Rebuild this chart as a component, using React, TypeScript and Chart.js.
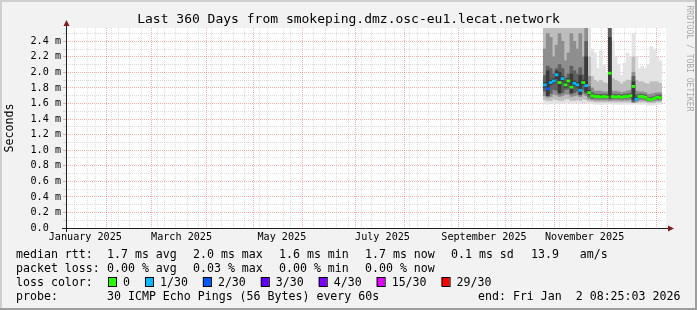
import React, { useEffect, useRef } from 'react';
import { Chart, registerables } from 'chart.js';

Chart.register(...registerables);

const MONO = "'DejaVu Sans Mono', monospace";

// ---- time axis (day of year 2025, 0 = Jan 1 00:00) ----
const rangeStart = 6.35; // Tue Jan 7 2025 08:25
const rangeEnd = 366.35; // Fri Jan 2 2026 08:25
const monthStarts = [31, 59, 90, 120, 151, 181, 212, 243, 273, 304, 334, 365];
const weekStarts = [11, 18, 25, 32, 39, 46, 53, 60, 67, 74, 81, 88, 95, 102, 109, 116, 123, 130, 137, 144, 151, 158, 165, 172, 179, 186, 193, 200, 207, 214, 221, 228, 235, 242, 249, 256, 263, 270, 277, 284, 291, 298, 305, 312, 319, 326, 333, 340, 347, 354, 361];
const xLabelDays = [15.4, 74.0, 135.1, 196.4, 258.2, 319.5];
const xLabels = ['January 2025', 'March 2025', 'May 2025', 'July 2025', 'September 2025', 'November 2025'];

// ---- value axis (ms) ----
const yMax = 2.571;
const yTicks = [0, 0.1, 0.2, 0.3, 0.4, 0.5, 0.6, 0.7, 0.8, 0.9, 1.0, 1.1, 1.2, 1.3, 1.4, 1.5, 1.6, 1.7, 1.8, 1.9, 2.0, 2.1, 2.2, 2.3, 2.4, 2.5];
const yTickLabels = ['0.0  ', '', '0.2 m', '', '0.4 m', '', '0.6 m', '', '0.8 m', '', '1.0 m', '', '1.2 m', '', '1.4 m', '', '1.6 m', '', '1.8 m', '', '2.0 m', '', '2.2 m', '', '2.4 m', ''];

// ---- measured data (per time bucket) ----
const days = [295.25, 297.05, 298.85, 300.65, 302.45, 304.25, 306.05, 307.85, 309.65, 311.45, 313.25, 315.05, 316.85, 318.65, 320.45, 322.25, 324.05, 325.85, 327.65, 329.45, 331.25, 333.05, 334.85, 336.65, 338.45, 340.25, 342.05, 343.85, 345.65, 347.45, 349.25, 351.05, 352.85, 354.65, 356.45, 358.25, 360.05, 361.85, 363.65, 365.45];
const medianMs = [1.84, 1.79, 1.87, 1.89, 1.97, 1.87, 1.92, 1.84, 1.89, 1.81, 1.86, 1.84, 1.77, 1.87, 1.83, 1.74, 1.70, 1.69, 1.69, 1.685, 1.69, 1.685, 1.99, 1.69, 1.685, 1.69, 1.68, 1.69, 1.69, 1.70, 1.82, 1.655, 1.69, 1.69, 1.68, 1.655, 1.65, 1.665, 1.68, 1.675];
const lossCount = [1, 2, 1, 1, 1, 0, 1, 0, 0, 0, 1, 1, 1, 0, 1, 0, 0, 0, 0, 0, 0, 0, 0, 0, 0, 0, 0, 0, 0, 0, 0, 1, 0, 0, 0, 0, 0, 0, 0, 0];
// smoke bands: outer (all pings) -> inner (around the median)
const smokeOuterLo = [1.60, 1.59, 1.60, 1.61, 1.60, 1.60, 1.60, 1.61, 1.61, 1.60, 1.60, 1.61, 1.60, 1.61, 1.61, 1.60, 1.60, 1.59, 1.59, 1.59, 1.59, 1.59, 1.60, 1.59, 1.59, 1.59, 1.59, 1.59, 1.59, 1.59, 1.59, 1.59, 1.59, 1.59, 1.59, 1.58, 1.58, 1.58, 1.59, 1.59];
const smokeOuterHi = [3.2, 3.2, 3.2, 3.2, 3.2, 3.2, 3.2, 3.2, 3.2, 3.2, 3.2, 3.2, 3.2, 3.2, 3.2, 2.6, 2.3, 2.25, 2.05, 2.28, 2.1, 2.0, 3.2, 2.4, 2.2, 2.1, 1.96, 2.12, 2.25, 2.2, 2.5, 2.2, 2.05, 2.08, 2.05, 2.1, 2.33, 2.3, 2.2, 2.15];
const smokeWideLo = [1.65, 1.64, 1.64, 1.66, 1.65, 1.64, 1.64, 1.66, 1.66, 1.64, 1.64, 1.65, 1.64, 1.66, 1.65, 1.63, 1.63, 1.62, 1.62, 1.62, 1.62, 1.62, 1.62, 1.62, 1.62, 1.62, 1.62, 1.62, 1.62, 1.62, 1.61, 1.61, 1.62, 1.62, 1.62, 1.61, 1.61, 1.61, 1.62, 1.62];
const smokeWideHi = [2.9, 3.0, 2.9, 2.7, 2.9, 3.0, 2.85, 2.6, 2.8, 3.0, 2.9, 2.75, 3.0, 2.7, 3.0, 2.2, 1.95, 1.9, 1.88, 1.9, 1.87, 1.86, 3.0, 1.92, 1.9, 1.88, 1.85, 1.88, 1.9, 1.9, 2.2, 1.9, 1.88, 1.88, 1.86, 1.85, 1.88, 1.88, 1.88, 1.86];
const smokeMidLo = [1.70, 1.68, 1.69, 1.72, 1.71, 1.69, 1.70, 1.72, 1.72, 1.69, 1.70, 1.71, 1.69, 1.72, 1.70, 1.66, 1.65, 1.645, 1.645, 1.645, 1.645, 1.645, 1.64, 1.645, 1.645, 1.645, 1.64, 1.645, 1.645, 1.65, 1.62, 1.63, 1.645, 1.645, 1.64, 1.63, 1.63, 1.635, 1.64, 1.64];
const smokeMidHi = [2.3, 2.5, 2.45, 2.2, 2.35, 2.5, 2.4, 2.15, 2.25, 2.5, 2.4, 2.3, 2.5, 2.2, 2.8, 1.95, 1.8, 1.76, 1.76, 1.76, 1.75, 1.75, 2.9, 1.76, 1.76, 1.75, 1.74, 1.75, 1.76, 1.77, 2.0, 1.76, 1.75, 1.75, 1.74, 1.72, 1.72, 1.73, 1.74, 1.74];
const smokeCoreLo = [1.76, 1.70, 1.73, 1.78, 1.77, 1.72, 1.74, 1.78, 1.79, 1.72, 1.74, 1.76, 1.71, 1.78, 1.73, 1.69, 1.67, 1.67, 1.67, 1.665, 1.67, 1.665, 1.66, 1.67, 1.665, 1.67, 1.66, 1.67, 1.67, 1.675, 1.62, 1.64, 1.67, 1.67, 1.66, 1.64, 1.635, 1.65, 1.66, 1.655];
const smokeCoreHi = [1.96, 2.08, 2.05, 1.98, 2.05, 2.1, 2.05, 1.93, 1.98, 2.08, 2.02, 1.98, 2.06, 1.97, 2.4, 1.82, 1.74, 1.72, 1.72, 1.72, 1.72, 1.72, 2.7, 1.72, 1.72, 1.72, 1.71, 1.72, 1.72, 1.73, 1.95, 1.71, 1.72, 1.72, 1.71, 1.68, 1.68, 1.69, 1.71, 1.71];
const smokeDarkLo = [1.81, 1.70, 1.84, 1.86, 1.92, 1.74, 1.89, 1.81, 1.86, 1.74, 1.83, 1.81, 1.72, 1.84, 1.75, 1.72, 1.69, 1.68, 1.68, 1.675, 1.68, 1.675, 1.70, 1.68, 1.675, 1.68, 1.67, 1.68, 1.68, 1.69, 1.65, 1.645, 1.68, 1.68, 1.67, 1.645, 1.64, 1.655, 1.67, 1.665];
const smokeDarkHi = [1.87, 2.02, 1.90, 1.92, 2.02, 2.0, 1.95, 1.87, 1.92, 1.98, 1.89, 1.87, 1.96, 1.90, 2.2, 1.77, 1.72, 1.70, 1.70, 1.70, 1.70, 1.70, 2.45, 1.70, 1.70, 1.70, 1.69, 1.70, 1.70, 1.71, 1.88, 1.68, 1.70, 1.70, 1.69, 1.665, 1.66, 1.675, 1.69, 1.69];

// ---- legend ----
const lossThresholds = [0, 1, 2, 3, 4, 15, 29];
const lossLegendLabels = ['0', '1/30', '2/30', '3/30', '4/30', '15/30', '29/30'];
const lossColors = ['#26ff00', '#00b8ff', '#0059ff', '#5e00ff', '#7e00ff', '#dd00ff', '#ff0000'];
const rttStats = ['1.7 ms avg', '2.0 ms max', '1.6 ms min', '1.7 ms now', '0.1 ms sd', '13.9   am/s'];
const lossStats = ['0.00 % avg', '0.03 % max', '0.00 % min', '0.00 % now'];
const probeText = '30 ICMP Echo Pings (56 Bytes) every 60s';
const endText = 'end: Fri Jan  2 08:25:03 2026';
const titleText = 'Last 360 Days from smokeping.dmz.osc-eu1.lecat.network';
const watermark = 'RRDTOOL / TOBI OETIKER';

const statX = [107, 193, 279, 365, 451, 531];

const MAJOR = 'rgba(222,79,79,0.45)';
const MINOR = 'rgba(143,143,143,0.3)';
const AXIS = '#1f1f1f';
const ARROW = '#801f1f';
const BAR_PX = 3;
const MEDIAN_HALF = 0.014;

function lossColor(n: number): string {
  let idx = 0;
  for (let i = 0; i < lossThresholds.length; i++) if (n >= lossThresholds[i]) idx = i;
  return lossColors[idx];
}

function band(lo: number[], hi: number[], color: string, order: number) {
  return {
    type: 'bar' as const,
    data: days.map((d, i) => ({ x: d, y: [lo[i], hi[i]] })),
    backgroundColor: color,
    borderWidth: 0,
    grouped: false,
    barThickness: BAR_PX,
    order,
  };
}

const xTickValues = Array.from(new Set([...monthStarts, ...weekStarts, ...xLabelDays])).sort((a, b) => a - b);

const decor = {
  id: 'decor',
  beforeDraw(chart: any) {
    const { ctx, width, height, chartArea: ca } = chart;
    ctx.save();
    ctx.fillStyle = '#f2f2f2';
    ctx.fillRect(0, 0, width, height);
    ctx.fillStyle = '#cfcfcf';
    ctx.fillRect(0, 0, width, 2);
    ctx.fillRect(0, 0, 2, height);
    ctx.fillStyle = '#9e9e9e';
    ctx.fillRect(0, height - 2, width, 2);
    ctx.fillRect(width - 2, 0, 2, height);
    ctx.fillStyle = '#ffffff';
    ctx.fillRect(ca.left, ca.top, ca.right - ca.left, ca.bottom - ca.top);
    ctx.restore();
  },
  afterDatasetsDraw(chart: any) {
    const { ctx, chartArea: ca } = chart;
    ctx.save();
    ctx.strokeStyle = AXIS;
    ctx.lineWidth = 1;
    ctx.beginPath();
    ctx.moveTo(ca.left - 4, ca.bottom + 0.5);
    ctx.lineTo(ca.right + 3, ca.bottom + 0.5);
    ctx.moveTo(ca.left + 0.5, ca.bottom + 4);
    ctx.lineTo(ca.left + 0.5, ca.top - 3);
    ctx.stroke();
    ctx.fillStyle = ARROW;
    ctx.beginPath();
    ctx.moveTo(ca.right + 8, ca.bottom + 0.5);
    ctx.lineTo(ca.right + 2, ca.bottom - 2.5);
    ctx.lineTo(ca.right + 2, ca.bottom + 3.5);
    ctx.closePath();
    ctx.fill();
    ctx.beginPath();
    ctx.moveTo(ca.left + 0.5, ca.top - 8);
    ctx.lineTo(ca.left - 2.5, ca.top - 2);
    ctx.lineTo(ca.left + 3.5, ca.top - 2);
    ctx.closePath();
    ctx.fill();
    ctx.restore();
  },
  afterDraw(chart: any) {
    const { ctx } = chart;
    ctx.save();
    ctx.fillStyle = '#000';
    ctx.textAlign = 'left';
    ctx.textBaseline = 'alphabetic';
    ctx.font = `11.6px ${MONO}`;
    ctx.fillText('median rtt:', 16, 258);
    rttStats.forEach((t, i) => ctx.fillText(t, statX[i], 258));
    ctx.fillText('packet loss:', 16, 272);
    lossStats.forEach((t, i) => ctx.fillText(t, statX[i], 272));
    ctx.fillText('loss color:', 16, 286);
    let x = 108;
    lossLegendLabels.forEach((t, i) => {
      ctx.fillStyle = lossColors[i];
      ctx.fillRect(x, 277, 8, 9);
      ctx.strokeStyle = '#000';
      ctx.lineWidth = 1;
      ctx.strokeRect(x + 0.5, 277.5, 8, 9);
      ctx.fillStyle = '#000';
      ctx.fillText(t, x + 15, 286);
      x += 15 + ctx.measureText(t).width + 15;
    });
    ctx.fillText('probe:', 16, 300);
    ctx.fillText(probeText, 107, 300);
    ctx.fillText(endText, 478, 300);
    // watermark
    ctx.translate(689.5, 5.5);
    ctx.rotate(Math.PI / 2);
    ctx.font = `8px ${MONO}`;
    ctx.fillStyle = 'rgba(0,0,0,0.33)';
    ctx.textBaseline = 'middle';
    ctx.fillText(watermark, 0, 0);
    ctx.restore();
  },
};

export default function App() {
  const ref = useRef<HTMLCanvasElement>(null);
  useEffect(() => {
    document.body.style.margin = '0';
    const canvas = ref.current!;
    const chart = new Chart(canvas, {
      type: 'bar',
      data: {
        datasets: [
          {
            type: 'bar',
            data: days.map((d, i) => ({ x: d, y: [medianMs[i] - MEDIAN_HALF, medianMs[i] + MEDIAN_HALF] })),
            backgroundColor: lossCount.map((n) => lossColor(n)),
            borderWidth: 0,
            grouped: false,
            barThickness: BAR_PX,
            order: 0,
          } as any,
          band(smokeDarkLo, smokeDarkHi, '#3a3a3a', 1),
          band(smokeCoreLo, smokeCoreHi, '#606060', 2),
          band(smokeMidLo, smokeMidHi, '#8e8e8e', 3),
          band(smokeWideLo, smokeWideHi, '#bdbdbd', 4),
          band(smokeOuterLo, smokeOuterHi, '#e3e3e3', 5),
        ] as any,
      },
      options: {
        responsive: false,
        animation: false,
        events: [],
        layout: { padding: 0 },
        plugins: {
          legend: { display: false },
          tooltip: { enabled: false },
          title: {
            display: true,
            text: titleText,
            color: '#000',
            font: { family: MONO, size: 13, weight: 'normal' as any },
            padding: { top: 11.7, bottom: 0.7 },
          },
        },
        scales: {
          x: {
            type: 'linear',
            min: rangeStart,
            max: rangeEnd,
            afterBuildTicks: (s: any) => {
              s.ticks = xTickValues.map((v) => ({ value: v }));
            },
            afterFit: (s: any) => {
              s.height = 82;
            },
            ticks: {
              autoSkip: false,
              maxRotation: 0,
              minRotation: 0,
              padding: 3.4,
              color: '#000',
              font: { family: MONO, size: 10.15 },
              callback: (v: any) => {
                const i = xLabelDays.indexOf(v);
                return i >= 0 ? xLabels[i] : '';
              },
            },
            grid: {
              drawTicks: false,
              lineWidth: 1,
              color: (c: any) => {
                const v = c.tick && c.tick.value;
                if (monthStarts.includes(v)) return MAJOR;
                if (weekStarts.includes(v)) return MINOR;
                return 'rgba(0,0,0,0)';
              },
            },
            border: { display: false, dash: [1, 1] },
          },
          y: {
            type: 'linear',
            min: 0,
            max: yMax,
            afterBuildTicks: (s: any) => {
              s.ticks = yTicks.map((v) => ({ value: v }));
            },
            afterFit: (s: any) => {
              s.width = 66;
            },
            ticks: {
              autoSkip: false,
              padding: 2,
              color: '#000',
              font: { family: MONO, size: 10.15 },
              callback: (_v: any, i: number) => yTickLabels[i],
            },
            grid: {
              drawTicks: true,
              tickLength: 3,
              lineWidth: 1,
              color: (c: any) => {
                const i = c.index;
                if (i === 0) return 'rgba(0,0,0,0)';
                return i % 2 === 0 ? MAJOR : MINOR;
              },
            },
            border: { display: false, dash: [1, 1] },
            title: {
              display: true,
              text: 'Seconds',
              color: '#000',
              font: { family: MONO, size: 11.6 },
              padding: { top: 3, bottom: 0 },
            },
          },
          y2: {
            type: 'linear',
            position: 'right',
            display: true,
            grid: { display: false },
            border: { display: false },
            ticks: { display: false },
            afterFit: (s: any) => {
              s.width = 31;
            },
          },
        },
      } as any,
      plugins: [decor],
    });
    return () => chart.destroy();
  }, []);
  return <canvas ref={ref} width={697} height={310} style={{ display: 'block', width: 697, height: 310 }} />;
}
